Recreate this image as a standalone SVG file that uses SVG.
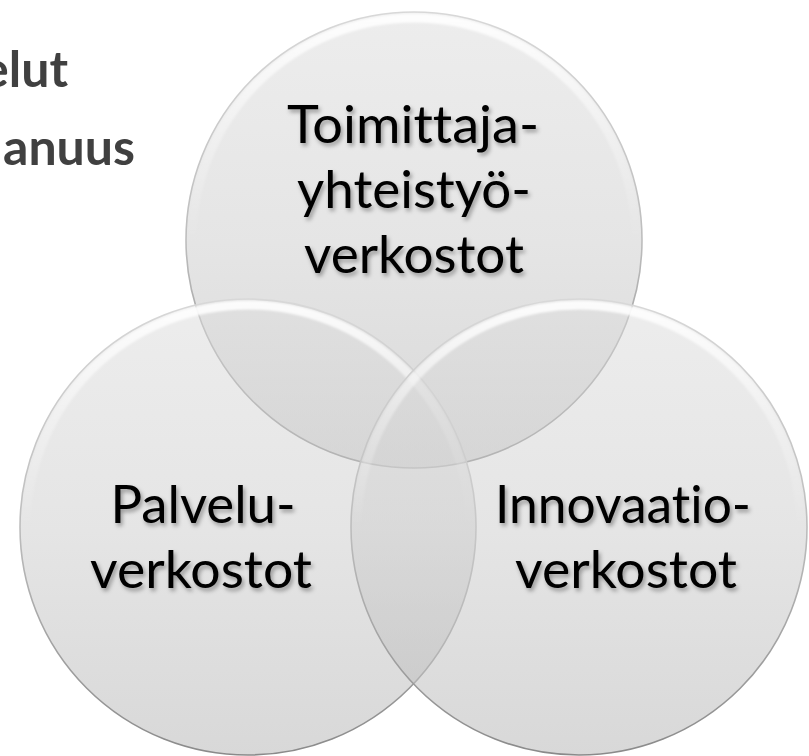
<svg xmlns="http://www.w3.org/2000/svg" width="809" height="756" viewBox="0 0 809 756">
  <defs>
    <linearGradient id="fillG" x1="0" y1="0" x2="0" y2="1">
      <stop offset="0" stop-color="#dedede"/>
      <stop offset="0.5" stop-color="#d0d0d0"/>
      <stop offset="1" stop-color="#b8b8b8"/>
    </linearGradient>
    <linearGradient id="rimG" x1="0" y1="0" x2="0" y2="1">
      <stop offset="0" stop-color="#d8d8d8"/>
      <stop offset="0.5" stop-color="#bdbdbd"/>
      <stop offset="1" stop-color="#8a8a8a"/>
    </linearGradient>
    <linearGradient id="hiG" x1="0" y1="0" x2="0" y2="1">
      <stop offset="0" stop-color="#ffffff" stop-opacity="0.9"/>
      <stop offset="0.25" stop-color="#ffffff" stop-opacity="0.35"/>
      <stop offset="0.5" stop-color="#ffffff" stop-opacity="0"/>
    </linearGradient>
    <filter id="blur1" x="-10%" y="-10%" width="120%" height="120%">
      <feGaussianBlur stdDeviation="1.2"/>
    </filter>
    <filter id="tshadow" x="-10%" y="-20%" width="130%" height="150%">
      <feDropShadow dx="2" dy="3" stdDeviation="2" flood-color="#000" flood-opacity="0.35"/>
    </filter>
  </defs>
  <style>
    .disc { fill: url(#fillG); fill-opacity: 0.55; }
    .rim { fill: none; stroke: url(#rimG); stroke-width: 1.6; }
    .hi { fill: none; stroke: url(#hiG); stroke-width: 9; filter: url(#blur1); }
    .lbl { font-family: Lato, "Open Sans", sans-serif; font-size: 53px; fill: #000; text-anchor: middle; filter: url(#tshadow); font-variant-ligatures: none; font-feature-settings: "liga" 0, "clig" 0; }
    .bg { font-family: Lato, "Open Sans", sans-serif; font-size: 50px; font-weight: bold; fill: #404040; text-anchor: end; font-variant-ligatures: none; }
  </style>
  <rect width="809" height="756" fill="#ffffff"/>
  <g id="background-text">
    <text class="bg" x="68" y="87">elut</text>
    <text class="bg" x="135" y="165">anuus</text>
  </g>
  <g id="node-top">
    <circle class="disc" cx="414" cy="240" r="228"/>
    <circle class="hi" cx="414" cy="240" r="222"/>
    <circle class="rim" cx="414" cy="240" r="228"/>
  </g>
  <g id="node-left">
    <circle class="disc" cx="248" cy="527" r="228"/>
    <circle class="hi" cx="248" cy="527" r="222"/>
    <circle class="rim" cx="248" cy="527" r="228"/>
  </g>
  <g id="node-right">
    <circle class="disc" cx="579" cy="527" r="228"/>
    <circle class="hi" cx="579" cy="527" r="222"/>
    <circle class="rim" cx="579" cy="527" r="228"/>
  </g>
  <g id="connectors"/>
  <g id="labels">
    <text class="lbl" x="413" y="143" textLength="252" lengthAdjust="spacingAndGlyphs">Toimittaja-</text>
    <text class="lbl" x="414" y="208" textLength="234" lengthAdjust="spacingAndGlyphs">yhteistyö-</text>
    <text class="lbl" x="414" y="273" textLength="220" lengthAdjust="spacingAndGlyphs">verkostot</text>
    <text class="lbl" x="203" y="523" textLength="185" lengthAdjust="spacingAndGlyphs">Palvelu-</text>
    <text class="lbl" x="201" y="588" textLength="222" lengthAdjust="spacingAndGlyphs">verkostot</text>
    <text class="lbl" x="623" y="523" textLength="256" lengthAdjust="spacingAndGlyphs">Innovaatio-</text>
    <text class="lbl" x="626" y="588" textLength="222" lengthAdjust="spacingAndGlyphs">verkostot</text>
  </g>
</svg>
